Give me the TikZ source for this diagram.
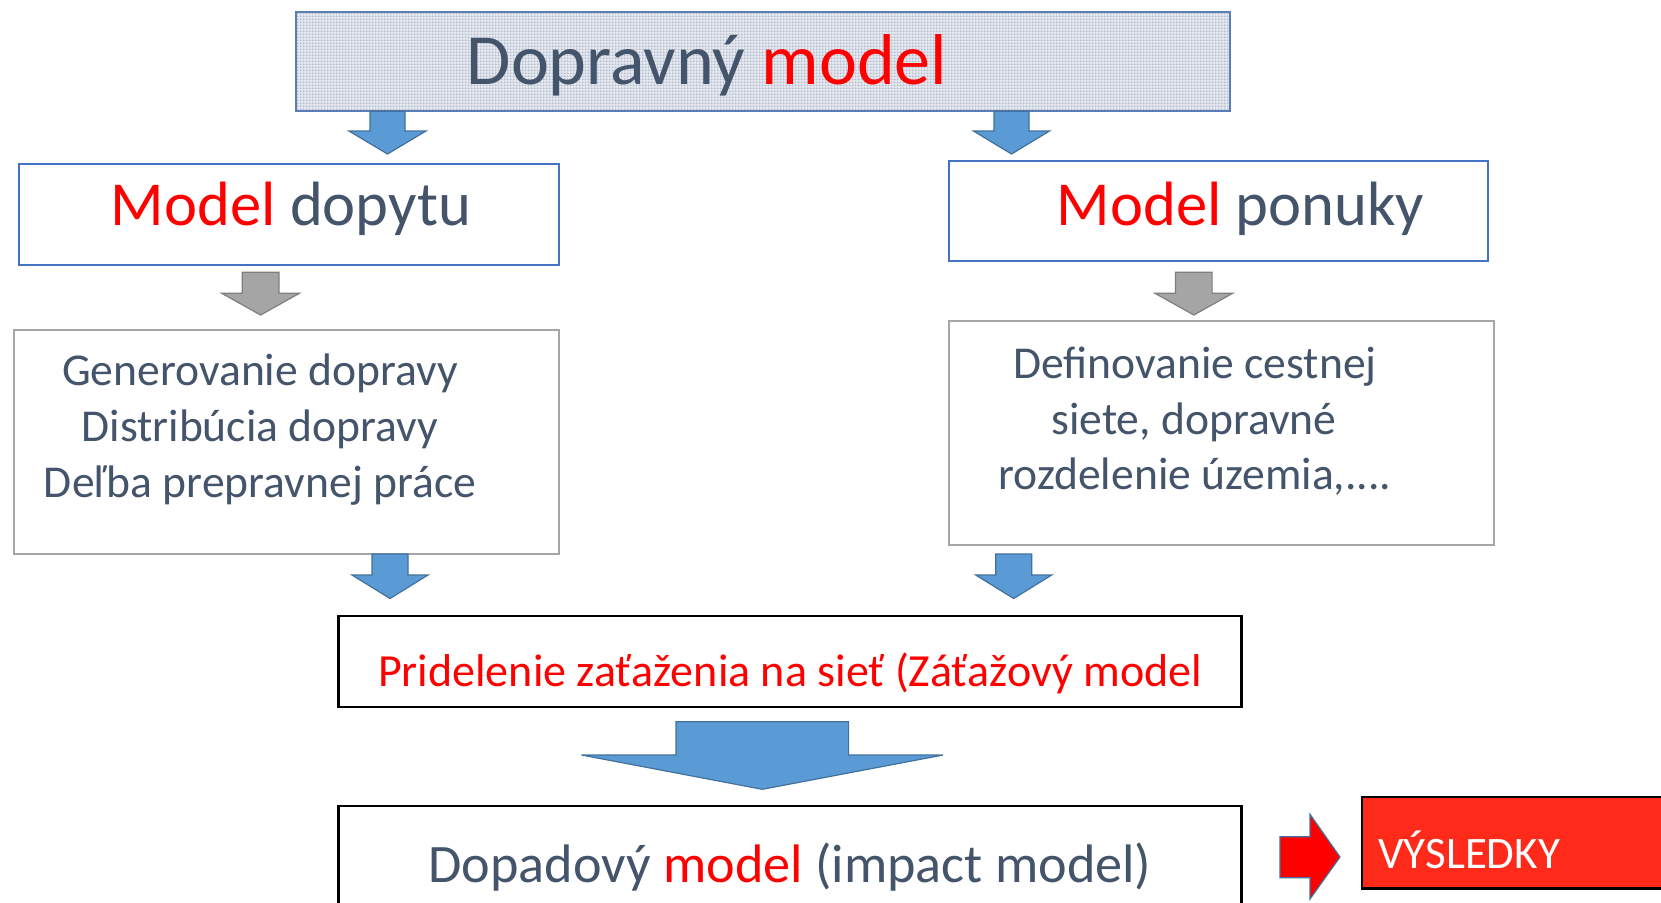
\documentclass[tikz,border=0pt]{standalone}
\usepackage{fontspec}
\setmainfont{Carlito}
\usetikzlibrary{patterns}
\definecolor{slate}{HTML}{44546A}
\definecolor{pptred}{HTML}{FF0000}
\definecolor{boxblue}{HTML}{4472C4}
\definecolor{topblue}{HTML}{5B7DB5}
\definecolor{arrblue}{HTML}{5B9BD5}
\definecolor{arrblueedge}{HTML}{41719C}
\definecolor{arrgray}{HTML}{A5A5A5}
\definecolor{arrgrayedge}{HTML}{7F7F7F}
\definecolor{graybox}{HTML}{A6A6A6}
\definecolor{resred}{HTML}{FF2A1A}
\definecolor{topfill}{HTML}{E4E7EE}
\definecolor{topgrid}{HTML}{9CA9C3}
\pgfdeclarepatternformonly{finegrid}{\pgfpointorigin}{\pgfqpoint{1.5pt}{1.5pt}}{\pgfqpoint{1.5pt}{1.5pt}}{%
  \pgfsetlinewidth{0.45pt}%
  \pgfpathmoveto{\pgfpointorigin}\pgfpathlineto{\pgfqpoint{1.5pt}{0pt}}%
  \pgfpathmoveto{\pgfpointorigin}\pgfpathlineto{\pgfqpoint{0pt}{1.5pt}}%
  \pgfusepath{stroke}}
\newcommand{\blkdown}[7]{%
  \draw[#1] (#2-#5,#3) -- (#2+#5,#3) -- (#2+#5,#4) -- (#2+#6,#4) -- (#2,#7)
    -- (#2-#6,#4) -- (#2-#5,#4) -- cycle;}
\tikzset{
  bluearrow/.style={fill=arrblue, draw=arrblueedge, line width=0.6pt, line join=miter},
  grayarrow/.style={fill=arrgray, draw=arrgrayedge, line width=0.6pt, line join=miter},
  txt/.style={inner sep=0pt, anchor=base},
  bluebox/.style={draw=boxblue, line width=1pt, fill=white},
  grybox/.style={draw=graybox, line width=1pt, fill=white},
  blkbox/.style={draw=black, line width=1.2pt, fill=white},
}
\begin{document}
\begin{tikzpicture}[x=0.5pt, y=-0.5pt]
\clip (0,0) rectangle (1661,902);
\fill[white] (0,0) rectangle (1661,902);
% top box
\fill[topfill] (295.5,11.7) rectangle (1230,111.2);
\fill[pattern=finegrid, pattern color=topgrid] (295.5,11.7) rectangle (1230,111.2);
\draw[draw=topblue, line width=1pt] (295.5,11.7) rectangle (1230,111.2);
\node[txt] (title) at (707,84) {\fontsize{36}{42}\selectfont\color{slate}Dopravný \color{pptred}model};
% arrows from top
\blkdown{bluearrow}{387.5}{111.2}{131}{17.5}{38.5}{154}
\blkdown{bluearrow}{1011.5}{111.2}{131}{17.5}{38}{154}
% model boxes
\draw[bluebox] (19,164) rectangle (559,265);
\node[txt] (md) at (291,225.6) {\fontsize{31.3}{38}\selectfont\color{pptred}Model \color{slate}dopytu};
\draw[bluebox] (949,161) rectangle (1488,261);
\node[txt] (mp) at (1240.6,225.6) {\fontsize{31.3}{38}\selectfont\color{pptred}Model \color{slate}ponuky};
% gray arrows
\blkdown{grayarrow}{260.6}{272.3}{293.3}{18.3}{38.8}{315}
\blkdown{grayarrow}{1193.8}{272.3}{293.3}{18.3}{38.8}{315}
% gray boxes
\draw[grybox] (14.2,330) rectangle (559,554);
\node[txt] (g1) at (260,385.5) {\fontsize{22.8}{28}\selectfont\color{slate}Generovanie dopravy};
\node[txt] (g2) at (260,441.5) {\fontsize{22.8}{28}\selectfont\color{slate}Distribúcia dopravy};
\node[txt] (g3) at (260,497.7) {\fontsize{22.8}{28}\selectfont\color{slate}Deľba prepravnej práce};
\draw[grybox] (949,321) rectangle (1493.6,544.5);
\node[txt] (p1) at (1195,378) {\fontsize{22.8}{28}\selectfont\color{slate}Definovanie cestnej};
\node[txt] (p2) at (1194,434) {\fontsize{22.8}{28}\selectfont\color{slate}siete, dopravné};
\node[txt] (p3) at (1195,489.4) {\fontsize{22.8}{28}\selectfont\color{slate}rozdelenie územia,....};
% blue arrows second row
\blkdown{bluearrow}{390}{554}{575}{18}{38}{598.5}
\blkdown{bluearrow}{1013.7}{554}{575}{18}{38}{598.5}
% assignment box
\draw[blkbox] (338.4,616) rectangle (1241.5,707);
\node[txt] (assign) at (790,686) {\fontsize{23}{28}\selectfont\color{pptred}Pridelenie zaťaženia na sieť (Záťažový model};
% big arrow
\blkdown{bluearrow}{762.3}{721.7}{755}{86.3}{180.8}{789.3}
% impact box
\draw[blkbox] (338.4,806) rectangle (1241.5,920);
\node[txt] (impact) at (790,882.7) {\fontsize{27.1}{33}\selectfont\color{slate}Dopadový \color{pptred}model \color{slate}(impact model)};
% red arrow
\draw[fill=pptred, draw=arrblueedge, line width=0.6pt, line join=miter]
  (1280,836.7) -- (1310,836.7) -- (1310,814.3) -- (1340,857) -- (1310,899) -- (1310,877.7) -- (1280,877.7) -- cycle;
% results box
\draw[fill=resred, draw=black, line width=1.2pt] (1361.7,796.7) rectangle (1680,888.3);
\node[txt, anchor=base west] (res) at (1378,868) {\fontsize{22.5}{27}\selectfont\color{white}VÝSLEDKY};
\end{tikzpicture}
\end{document}
